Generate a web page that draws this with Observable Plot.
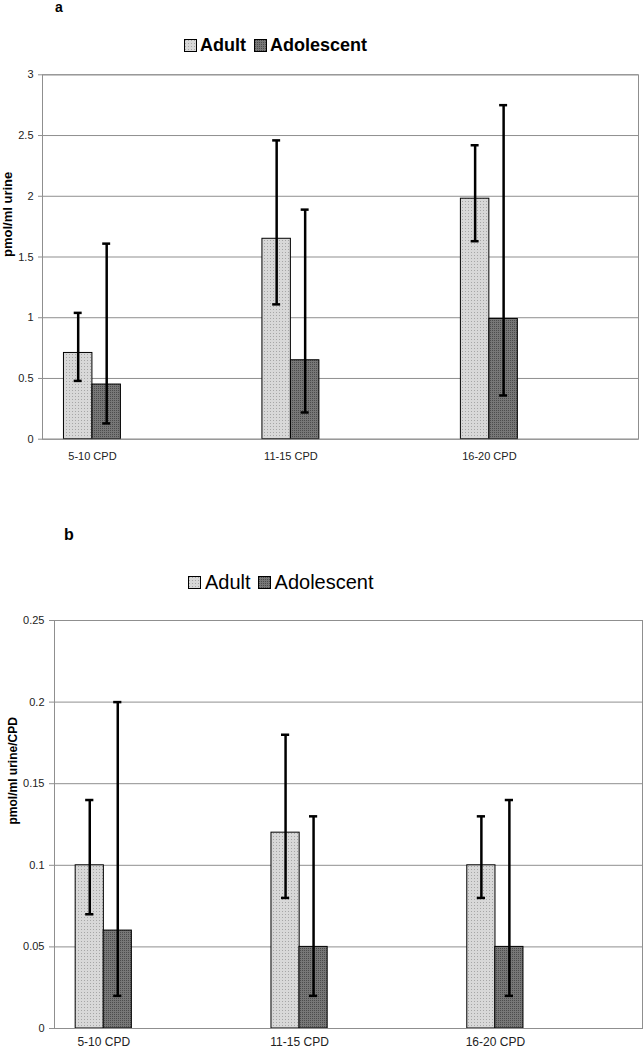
<!DOCTYPE html>
<html><head><meta charset="utf-8">
<script src="https://cdn.jsdelivr.net/npm/d3@7"></script>
<script src="https://cdn.jsdelivr.net/npm/@observablehq/plot@0.6"></script>
<style>
html,body{margin:0;padding:0;background:#fff;}
#page{position:relative;width:643px;height:1050px;overflow:hidden;font-family:"Liberation Sans",Arial,sans-serif;color:#000;}
.abs{position:absolute;}
.legend{position:absolute;display:flex;align-items:center;white-space:nowrap;line-height:1;}
.sw{width:11px;height:11px;border:1px solid #000;flex:none;}
.panel-label{position:absolute;font-weight:bold;line-height:1;}
</style></head><body>
<svg width="0" height="0" style="position:absolute">
  <defs>
    <pattern id="pAdult" width="3" height="3" patternUnits="userSpaceOnUse">
      <rect width="3" height="3" fill="#d8d8d8"></rect>
      <rect width="1" height="1" fill="#a6a6a6"></rect>
    </pattern>
    <pattern id="pAdol" width="2" height="2" patternUnits="userSpaceOnUse">
      <rect width="2" height="2" fill="#777777"></rect>
      <rect width="1" height="1" fill="#4c4c4c"></rect>
    </pattern>
  </defs>
</svg>
<div id="page"></div>
<script>
const categories = ["5-10 CPD", "11-15 CPD", "16-20 CPD"];
const series = ["Adult", "Adolescent"];

// Panel a: pmol/ml urine
const adultA = [0.71, 1.65, 1.98];
const adultALow = [0.48, 1.11, 1.63];
const adultAHigh = [1.04, 2.46, 2.42];
const adolA = [0.45, 0.65, 0.99];
const adolALow = [0.13, 0.22, 0.36];
const adolAHigh = [1.61, 1.89, 2.75];
const yTicksA = [0, 0.5, 1, 1.5, 2, 2.5, 3];

// Panel b: pmol/ml urine/CPD
const adultB = [0.10, 0.12, 0.10];
const adultBLow = [0.07, 0.08, 0.08];
const adultBHigh = [0.14, 0.18, 0.13];
const adolB = [0.06, 0.05, 0.05];
const adolBLow = [0.02, 0.02, 0.02];
const adolBHigh = [0.20, 0.13, 0.14];
const yTicksB = [0, 0.05, 0.1, 0.15, 0.2, 0.25];

const FONT = '"Liberation Sans", Arial, sans-serif';
const fills = {"Adult": "url(#pAdult)", "Adolescent": "url(#pAdol)"};

function rowsFor(name, vals, lo, hi) {
  return categories.map((c, i) => ({cat: c, series: name, value: vals[i], lo: lo[i], hi: hi[i]}));
}

function makePanel(cfg) {
  const adult = rowsFor("Adult", cfg.adult, cfg.adultLow, cfg.adultHigh);
  const adol = rowsFor("Adolescent", cfg.adol, cfg.adolLow, cfg.adolHigh);
  const h = cfg.half;
  const capIn = h / 2 - 4;
  const errStyle = {stroke: "#000", strokeWidth: 2.5};
  return Plot.plot({
    width: 643,
    height: cfg.height,
    marginLeft: cfg.marginLeft,
    marginRight: cfg.marginRight,
    marginTop: cfg.marginTop,
    marginBottom: cfg.marginBottom,
    style: {fontFamily: FONT, fontSize: "11px", background: "transparent", color: "#222", overflow: "visible"},
    x: {domain: categories, paddingInner: 0.713, paddingOuter: 0.358, align: 0.151, round: false, axis: null},
    y: {domain: [0, cfg.ticks[cfg.ticks.length - 1]], axis: null},
    marks: [
      Plot.ruleY(cfg.ticks, {stroke: "#8f8f8f", strokeWidth: 1}),
      Plot.barY(adult, {x: "cat", y: "value", fill: fills.Adult, stroke: "#000", strokeWidth: 1, insetRight: h}),
      Plot.barY(adol, {x: "cat", y: "value", fill: fills.Adolescent, stroke: "#000", strokeWidth: 1, insetLeft: h}),
      Plot.ruleX(adult, {x: "cat", y1: "lo", y2: "hi", dx: -h / 2, ...errStyle}),
      Plot.ruleX(adol, {x: "cat", y1: "lo", y2: "hi", dx: h / 2, ...errStyle}),
      Plot.tickY(adult, {x: "cat", y: "lo", insetLeft: capIn, insetRight: h + capIn, ...errStyle}),
      Plot.tickY(adult, {x: "cat", y: "hi", insetLeft: capIn, insetRight: h + capIn, ...errStyle}),
      Plot.tickY(adol, {x: "cat", y: "lo", insetLeft: h + capIn, insetRight: capIn, ...errStyle}),
      Plot.tickY(adol, {x: "cat", y: "hi", insetLeft: h + capIn, insetRight: capIn, ...errStyle}),
      Plot.frame({stroke: "#8f8f8f", strokeWidth: 1}),
      Plot.axisY({ticks: cfg.ticks, tickFormat: d => String(d), tickSize: cfg.tickSize, tickPadding: 5, stroke: "#8f8f8f", fill: "#222", fontSize: 11, label: null}),
      Plot.axisX({tickSize: 0, tickPadding: cfg.xPad, fill: "#222", fontSize: cfg.xFont, label: null}),
      Plot.text([cfg.ylabel], {text: d => d, frameAnchor: "left", rotate: -90, dx: cfg.labelDx, fontWeight: "bold", fontSize: cfg.labelSize, fill: "#000"})
    ]
  });
}

const page = document.getElementById("page");

function addLegend(left, top, fontSize, bold, gaps) {
  const lg = document.createElement("div");
  lg.className = "legend";
  lg.style.left = left + "px";
  lg.style.top = top + "px";
  lg.style.fontSize = fontSize + "px";
  lg.style.fontWeight = bold ? "bold" : "normal";
  series.forEach((s, i) => {
    const sw = document.createElement("div");
    sw.className = "sw";
    const svgNS = "http://www.w3.org/2000/svg";
    const svg = document.createElementNS(svgNS, "svg");
    svg.setAttribute("width", "11"); svg.setAttribute("height", "11");
    svg.style.display = "block";
    const r = document.createElementNS(svgNS, "rect");
    r.setAttribute("width", "11"); r.setAttribute("height", "11");
    r.setAttribute("fill", fills[s]);
    svg.appendChild(r);
    sw.appendChild(svg);
    if (i > 0) sw.style.marginLeft = gaps[1] + "px";
    const t = document.createElement("span");
    t.textContent = s;
    t.style.marginLeft = gaps[0] + "px";
    lg.appendChild(sw);
    lg.appendChild(t);
  });
  page.appendChild(lg);
}

function addLabel(text, left, top, size) {
  const d = document.createElement("div");
  d.className = "panel-label";
  d.textContent = text;
  d.style.left = left + "px";
  d.style.top = top + "px";
  d.style.fontSize = size + "px";
  d.style.fontFamily = FONT;
  page.appendChild(d);
}

// Panel a
const wrapA = document.createElement("div");
wrapA.className = "abs"; wrapA.style.left = "0px"; wrapA.style.top = "0px";
wrapA.appendChild(makePanel({
  adult: adultA, adultLow: adultALow, adultHigh: adultAHigh,
  adol: adolA, adolLow: adolALow, adolHigh: adolAHigh,
  ticks: yTicksA, height: 470, marginLeft: 42, marginRight: 5, marginTop: 74.3, marginBottom: 31.3,
  half: 28.5, tickSize: 4, xFont: 11, xPad: 13, ylabel: "pmol/ml urine", labelDx: -35, labelSize: 13
}));
page.appendChild(wrapA);

// Panel b
const wrapB = document.createElement("div");
wrapB.className = "abs"; wrapB.style.left = "0px"; wrapB.style.top = "560px";
wrapB.appendChild(makePanel({
  adult: adultB, adultLow: adultBLow, adultHigh: adultBHigh,
  adol: adolB, adolLow: adolBLow, adolHigh: adolBHigh,
  ticks: yTicksB, height: 490, marginLeft: 54, marginRight: 1, marginTop: 60, marginBottom: 22,
  half: 28, tickSize: 5, xFont: 12, xPad: 9, ylabel: "pmol/ml urine/CPD", labelDx: -41.5, labelSize: 12
}));
page.appendChild(wrapB);

addLabel("a", 55, 0, 14);
addLabel("b", 64, 527, 16);
addLegend(184, 36, 18, true, [3, 8]);
addLegend(188, 572, 20, false, [4, 7]);
</script>
</body></html>
